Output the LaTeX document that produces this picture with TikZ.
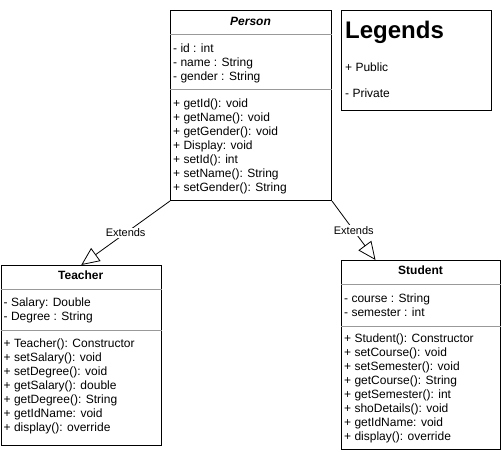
\documentclass[tikz,border=0pt]{standalone}
\usepackage{fontspec}
\setmainfont{Liberation Sans}
\usetikzlibrary{arrows.meta}
\tikzset{
    classbox/.style={draw, line width=1pt, anchor=north west, inner sep=0pt},
    classname/.style={anchor=base, font=\fontsize{12}{14}\selectfont\bfseries},
    members/.style={anchor=base west, align=left, inner sep=0pt, font=\fontsize{12}{14}\selectfont},
    divider/.style={draw=black!40, line width=0.8pt},
    extends/.style={line width=0.8pt, -{Triangle[open, length=18pt, width=16pt]}},
    extlabel/.style={midway, fill=white, inner sep=1pt, font=\fontsize{11}{13}\selectfont}
}
\begin{document}
\begin{tikzpicture}[x=1pt, y=-1pt]
        \useasboundingbox (0, 0) rectangle (501, 451);
        \node[classbox, minimum width=161pt, minimum height=190pt] (person) at (170, 10) {};
        \node[classname] (persontitle) at (250.5, 25) {\itshape Person};
        \draw[divider] (person.west |- 0, 34) -- (person.east |- 0, 34);
        \node[members] (personattr) at (173, 80) {- id : int\\- name : String\\- gender : String};
        \draw[divider] (person.west |- 0, 89) -- (person.east |- 0, 89);
        \node[members] (personops) at (173, 191) {+ getId(): void\\+ getName(): void\\+ getGender(): void\\+ Display: void\\+ setId(): int\\+ setName(): String\\+ setGender(): String};
        \node[classbox, minimum width=150pt, minimum height=100pt] (legend) at (341, 10) {};
        \node[anchor=base west, inner sep=0pt, font=\fontsize{24}{28}\selectfont\bfseries] (legendtitle) at (345, 38) {Legends};
        \node[members] (public) at (345, 71) {+ Public};
        \node[members] (private) at (345, 97) {- Private};
        \node[classbox, minimum width=160.5pt, minimum height=180pt] (teacher) at (0.5, 265) {};
        \node[classname] (teachertitle) at (80.75, 279.5) {Teacher};
        \draw[divider] (teacher.west |- 0, 289) -- (teacher.east |- 0, 289);
        \node[members] (teacherattr) at (3.5, 320.5) {- Salary: Double\\- Degree : String};
        \draw[divider] (teacher.west |- 0, 330) -- (teacher.east |- 0, 330);
        \node[members] (teacherops) at (3.5, 431) {+ Teacher(): Constructor\\+ setSalary(): void\\+ setDegree(): void\\+ getSalary(): double\\+ getDegree(): String\\+ getIdName: void\\+ display(): override};
        \node[classbox, minimum width=159pt, minimum height=189pt] (student) at (341, 260) {};
        \node[classname] (studenttitle) at (420.5, 274.5) {Student};
        \draw[divider] (student.west |- 0, 284) -- (student.east |- 0, 284);
        \node[members] (studentattr) at (344, 316) {- course : String\\- semester : int};
        \draw[divider] (student.west |- 0, 326) -- (student.east |- 0, 326);
        \node[members] (studentops) at (344, 440) {+ Student(): Constructor\\+ setCourse(): void\\+ setSemester(): void\\+ getCourse(): String\\+ getSemester(): int\\+ shoDetails(): void\\+ getIdName: void\\+ display(): override};
        \coordinate (studenttip) at (375.5, 260);
        \draw[extends] (person.south west) -- (teacher.north) node[extlabel] {Extends};
        \draw[extends] (person.south east) -- (studenttip) node[extlabel] {Extends};
    \end{tikzpicture}
\end{document}
